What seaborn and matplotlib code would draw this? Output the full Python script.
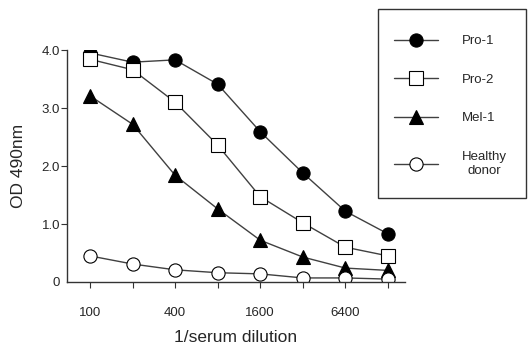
import numpy as np, pandas as pd
import matplotlib
matplotlib.use("Agg")
import matplotlib.pyplot as plt
from matplotlib.patches import Rectangle
import seaborn as sns

# data
dilution = [100, 200, 400, 800, 1600, 3200, 6400, 12800]
pro1    = [3.95, 3.79, 3.83, 3.41, 2.59, 1.88, 1.22, 0.83]
pro2    = [3.84, 3.66, 3.10, 2.36, 1.47, 1.02, 0.60, 0.45]
mel1    = [3.21, 2.72, 1.84, 1.26, 0.72, 0.43, 0.24, 0.20]
healthy = [0.45, 0.31, 0.21, 0.16, 0.14, 0.07, 0.07, 0.05]
series_names = ["Pro-1", "Pro-2", "Mel-1", "Healthy\ndonor"]
xtick_labels = ["100", "", "400", "", "1600", "", "6400", ""]
ytick_vals = [0, 1, 2, 3, 4]
ytick_labels = ["0", "1.0", "2.0", "3.0", "4.0"]

df = pd.DataFrame({"dilution": dilution * 4,
                   "od": pro1 + pro2 + mel1 + healthy,
                   "serum": np.repeat(series_names, len(dilution))})

sns.set_style("ticks")
plt.rcParams["font.family"] = ["Liberation Sans", "DejaVu Sans"]

fig = plt.figure(figsize=(5.28, 3.45), dpi=100)
ax = fig.add_axes([67/528, 1-282/345, (405-67)/528, (282-50)/345])

styles = {"Pro-1": ("o", "black"), "Pro-2": ("s", "white"),
          "Mel-1": ("^", "black"), "Healthy\ndonor": ("o", "white")}
for name in series_names:
    m, fc = styles[name]
    sns.lineplot(data=df[df.serum == name], x="dilution", y="od", ax=ax,
                 color="#404040", lw=1, marker=m, markersize=9.5,
                 markerfacecolor=fc, markeredgecolor="black", markeredgewidth=0.8,
                 label=name, legend=False)

ax.set_xscale("log", base=2)
ax.set_xlim(100 * 2**-0.54, 12800 * 2**0.4)
ax.set_ylim(0, 4)
ax.set_xticks(dilution)
ax.set_xticklabels(xtick_labels)
ax.minorticks_off()
ax.set_yticks(ytick_vals)
ax.set_yticklabels(ytick_labels)
ax.yaxis.get_major_ticks()[0].tick1line.set_visible(False)
ax.tick_params(axis="x", length=4, width=0.8, pad=14, labelsize=9.5, color="#333333")
ax.tick_params(axis="y", length=4, width=0.8, pad=1, labelsize=9.5, color="#333333")
for s in ["left", "bottom"]:
    ax.spines[s].set_linewidth(1)
    ax.spines[s].set_color("#333333")
sns.despine(ax=ax)

ax.set_xlabel("1/serum dilution", fontsize=12.5, labelpad=8)
ax.set_ylabel("OD 490nm", fontsize=12.5, labelpad=11)

# legend box drawn on its own, entries placed inside it
fig.patches.append(Rectangle((378/528, 1-198/345), 148/528, 189/345,
                             transform=fig.transFigure, fill=False,
                             edgecolor="#333333", lw=1))
handles, labels = ax.get_legend_handles_labels()
leg = fig.legend(handles, labels, loc="upper left",
                 bbox_to_anchor=(394/528, 1-35/345), frameon=False,
                 fontsize=9.5, handlelength=3.35, handletextpad=1.8,
                 labelspacing=2.0, borderpad=0, borderaxespad=0)
for t in leg.get_texts():
    t.set_multialignment("center")

fig.savefig("out.png", dpi=100)
